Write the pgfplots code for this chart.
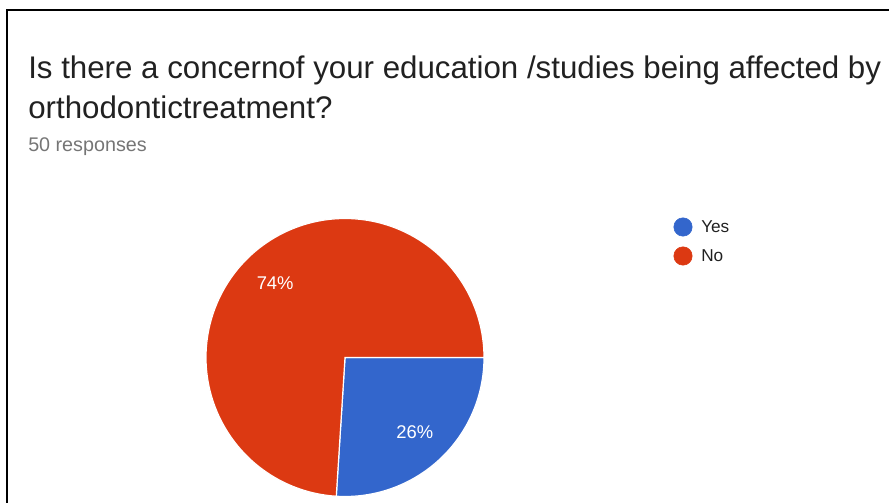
\documentclass[border=0pt]{standalone}
\usepackage{fontspec}
\setmainfont{Liberation Sans}
\usepackage{pgfplots}
\pgfplotsset{compat=1.18}
\definecolor{yesblue}{HTML}{3366CC}
\definecolor{nored}{HTML}{DC3912}
\definecolor{subgray}{HTML}{757575}
\definecolor{titlecol}{HTML}{212121}
% data: share of responses (%)
\def\pYes{26}
\def\pNo{74}
\begin{document}
\begin{tikzpicture}
\useasboundingbox (0,0) rectangle (666.75pt,377.25pt);
\begin{axis}[at={(0,0)}, anchor=south west, scale only axis,
  width=666.75pt, height=377.25pt,
  xmin=0, xmax=889, ymin=0, ymax=503, y dir=reverse,
  hide axis, clip=false]
\pgfmathsetmacro\aYes{3.6*\pYes}
\pgfmathsetmacro\aNo{3.6*\pNo}
\pgfmathsetmacro\aEnd{\aYes+\aNo}
\pgfmathsetmacro\mYes{\aYes/2}
\pgfmathsetmacro\mNo{\aYes+\aNo/2}
% slices
\addplot[fill=yesblue, draw=white, line width=0.9pt, domain=0:\aYes, samples=80, variable=\t]
  ({345+139*cos(t)},{357.5+139*sin(t)}) -- (axis cs:345,357.5) -- cycle;
\addplot[fill=nored, draw=white, line width=0.9pt, domain=\aYes:\aEnd, samples=160, variable=\t]
  ({345+139*cos(t)},{357.5+139*sin(t)}) -- (axis cs:345,357.5) -- cycle;
% slice labels
\node[white, font=\fontsize{13.8pt}{16pt}\selectfont] at (axis cs:{345+102*cos(\mYes)},{357.5+102*sin(\mYes)}) {\pYes\%};
\node[white, font=\fontsize{13.8pt}{16pt}\selectfont] at (axis cs:{345+102*cos(\mNo)},{357.5+102*sin(\mNo)}) {\pNo\%};
% legend
\addplot[only marks, mark=*, mark size=6.9pt, yesblue, forget plot] coordinates {(683,227)};
\addplot[only marks, mark=*, mark size=6.9pt, nored, forget plot] coordinates {(683,256)};
\node[anchor=west, inner sep=0, text=titlecol, font=\fontsize{12.9pt}{15pt}\selectfont] at (axis cs:701,227) {Yes};
\node[anchor=west, inner sep=0, text=titlecol, font=\fontsize{12.9pt}{15pt}\selectfont] at (axis cs:701,256) {No};
% titles
\node[anchor=base west, inner sep=0, text=titlecol, font=\fontsize{23.45pt}{28pt}\selectfont] at (axis cs:28,79) {Is there a concernof your education /studies being affected by};
\node[anchor=base west, inner sep=0, text=titlecol, font=\fontsize{23.45pt}{28pt}\selectfont] at (axis cs:28,119) {orthodontictreatment?};
\node[anchor=base west, inner sep=0, text=subgray, font=\fontsize{14.8pt}{17pt}\selectfont] at (axis cs:28,152) {50 responses};
% frame
\draw[black, line width=1.5pt] (axis cs:7,520) -- (axis cs:7,10) -- (axis cs:895,10);
\end{axis}
\end{tikzpicture}
\end{document}
